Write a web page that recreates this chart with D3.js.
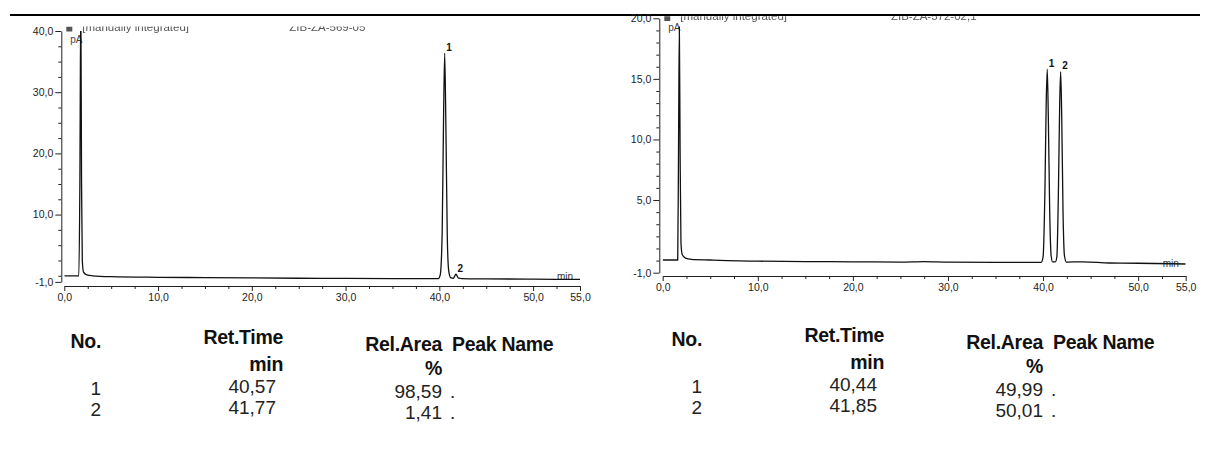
<!DOCTYPE html>
<html>
<head>
<meta charset="utf-8">
<script src="https://cdn.jsdelivr.net/npm/d3@7"></script>
<style>
  body { margin: 0; background: #fff; }
  svg { display: block; font-family: "Liberation Sans", Arial, sans-serif; }
</style>
</head>
<body>
<svg id="c" width="1211" height="457"></svg>
<script>
// ---- shared axis ticks ----
const timeTicks = [0, 10, 20, 30, 40, 50, 55];           // min
const timeMinorStep = 2.5;

// ---- run A (ZIB-ZA-569-05) ----
const runA_title = "ZIB-ZA-569-05";
const runA_yTicks = [-1, 10, 20, 30, 40];                 // pA
const runA_yMinorStep = 2.5;
const runA_time   = [0, 1.55, 1.66, 1.76, 1.84, 1.92, 2.05, 2.4, 3, 5, 10, 15, 20, 25, 30, 35, 39.9, 40.1, 40.3, 40.45, 40.57, 40.7, 40.85, 41.0, 41.2, 41.5, 41.77, 42.05, 42.4, 45, 50, 55];
const runA_signal = [0, 0, 15, 45, 15, 2.5, 0.6, 0.15, 0, -0.15, -0.25, -0.3, -0.35, -0.4, -0.42, -0.45, -0.45, 0.2, 7, 26, 36.4, 24, 6, 0.8, -0.3, -0.4, 0.25, -0.4, -0.45, -0.5, -0.55, -0.6];
const runA_peakNo   = [1, 2];
const runA_retTime  = [40.57, 41.77];
const runA_relArea  = [98.59, 1.41];
const runA_peakName = [".", "."];

// ---- run B (ZIB-ZA-572-02,1) ----
const runB_title = "ZIB-ZA-572-02,1";
const runB_yTicks = [-1, 5, 10, 15, 20];                  // pA
const runB_yMinorStep = 1;
const runB_time   = [0, 1.58, 1.67, 1.75, 1.83, 1.92, 2.05, 2.4, 3, 5, 10, 15, 20, 25, 27.5, 30, 35, 39.8, 40.0, 40.2, 40.33, 40.44, 40.55, 40.7, 40.85, 41.0, 41.3, 41.45, 41.62, 41.75, 41.85, 41.96, 42.1, 42.25, 42.45, 44.2, 47, 50, 55];
const runB_signal = [0.05, 0.05, 10, 19.3, 9, 1.5, 0.5, 0.2, 0.1, 0.05, -0.05, -0.08, -0.1, -0.12, -0.08, -0.12, -0.14, -0.15, 0.3, 6, 13, 15.8, 12, 4, 0.4, -0.1, -0.1, 0.3, 6, 13, 15.6, 12, 4, 0.4, -0.12, -0.1, -0.2, -0.22, -0.28];
const runB_peakNo   = [1, 2];
const runB_retTime  = [40.44, 41.85];
const runB_relArea  = [49.99, 50.01];
const runB_peakName = [".", "."];

const svg = d3.select("#c");
const loc = d3.formatLocale({decimal: ",", thousands: ".", grouping: [3], currency: ["", ""], minus: "-"});
const f1 = loc.format(".1f");
const f2 = loc.format(".2f");
const INK = "#222";

// page rule across the top
svg.append("line")
  .attr("x1", 10).attr("x2", 1200).attr("y1", 15).attr("y2", 15)
  .attr("stroke", "#000").attr("stroke-width", 2.2);

svg.append("defs").append("filter").attr("id", "soft")
  .append("feGaussianBlur").attr("stdDeviation", 0.5);

function chromatogram(cfg) {
  const g = svg.append("g");
  const x = d3.scaleLinear([0, 55], cfg.xRange);
  const y = d3.scaleLinear(cfg.yDomain, cfg.yRange);

  // report header, only its lower edge shows under the page rule
  const clipId = "hdr" + cfg.id;
  svg.select("defs").append("clipPath").attr("id", clipId)
    .append("rect").attr("x", 0).attr("y", cfg.headerClip).attr("width", 1211).attr("height", 40);
  const hg = g.append("g").attr("clip-path", `url(#${clipId})`).attr("filter", "url(#soft)").attr("fill", "#555");
  hg.append("rect").attr("x", cfg.yAxisX + 5).attr("y", cfg.headerBase - 4).attr("width", 6).attr("height", 5);
  hg.append("text").attr("x", cfg.yAxisX + 21).attr("y", cfg.headerBase).attr("font-size", 11.5).text("[manually integrated]");
  hg.append("text").attr("x", x(24)).attr("y", cfg.headerBase).attr("font-size", 11.5).text(cfg.title);

  // y axis (pA)
  const ya = g.append("g").attr("transform", `translate(${cfg.yAxisX},0)`)
    .call(d3.axisLeft(y).tickValues(cfg.yTicks).tickFormat(f1).tickSize(6).tickSizeOuter(0).tickPadding(2));
  const yMinor = d3.range(0, cfg.yDomain[1], cfg.yMinorStep).filter(v => !cfg.yTicks.includes(v));
  const ym = g.append("g").attr("transform", `translate(${cfg.yAxisX},0)`)
    .call(d3.axisLeft(y).tickValues(yMinor).tickFormat("").tickSize(3).tickSizeOuter(0));
  ym.select(".domain").remove();

  // x axis (min)
  const xa = g.append("g").attr("transform", `translate(0,${cfg.xAxisY})`)
    .call(d3.axisBottom(x).tickValues(timeTicks).tickFormat(f1).tickSize(5).tickSizeOuter(0).tickPadding(3));
  const xMinor = d3.range(0, 55, timeMinorStep).filter(v => !timeTicks.includes(v));
  const xm = g.append("g").attr("transform", `translate(0,${cfg.xAxisY})`)
    .call(d3.axisBottom(x).tickValues(xMinor).tickFormat("").tickSize(3).tickSizeOuter(0));
  xm.select(".domain").remove();

  [ya, ym, xa, xm].forEach(a => {
    a.selectAll("path, line").attr("stroke", INK).attr("stroke-width", 1);
    a.selectAll("text").attr("fill", INK).attr("font-size", 10.5)
      .attr("font-family", '"Liberation Sans", Arial, sans-serif');
  });

  // unit labels
  g.append("text").attr("x", cfg.yAxisX + 9).attr("y", y(cfg.yDomain[1]) + cfg.pAOffset)
    .attr("font-size", 10).attr("fill", "#444").text("pA");
  g.append("text").attr("x", x(55) - 23).attr("y", y(0) + cfg.minOffset)
    .attr("font-size", 10).attr("fill", "#333").text("min");

  // signal trace
  const tClip = "trace" + cfg.id;
  svg.select("defs").append("clipPath").attr("id", tClip)
    .append("rect").attr("x", x(0)).attr("y", y(cfg.yDomain[1]))
    .attr("width", x(55) - x(0)).attr("height", y(cfg.yDomain[0]) - y(cfg.yDomain[1]) + 5);
  const pts = cfg.time.map((t, i) => [t, cfg.signal[i]]);
  g.append("path").datum(pts)
    .attr("clip-path", `url(#${tClip})`)
    .attr("fill", "none").attr("stroke", "#111").attr("stroke-width", 1.3)
    .attr("stroke-linejoin", "round")
    .attr("d", d3.line().x(d => x(d[0])).y(d => y(d[1])).curve(d3.curveMonotoneX));

  // peak numbers at the apex of each integrated peak
  cfg.peakNo.forEach((n, i) => {
    const t = cfg.retTime[i];
    const k = cfg.time.indexOf(t);
    g.append("text").attr("x", x(t) + 1.5).attr("y", y(cfg.signal[k]) - 2.5)
      .attr("font-size", 10).attr("font-weight", "bold").attr("fill", "#111").text(n);
  });
}

function peakTable(cfg) {
  const g = svg.append("g").attr("transform", `translate(${cfg.dx},${cfg.dy})`)
    .attr("font-family", '"Liberation Sans", Arial, sans-serif');
  const head = (txt, xx, yy, anchor) => g.append("text").attr("x", xx).attr("y", yy)
    .attr("text-anchor", anchor).attr("font-size", 19.5).attr("font-weight", "bold")
    .attr("fill", "#111").attr("letter-spacing", -0.3).text(txt);
  head("No.", 101, 348, "end");
  head("Ret.Time", 283, 344, "end");
  head("min", 283, 371, "end");
  head("Rel.Area", 442, 351, "end");
  head("%", 442, 375, "end");
  head("Peak Name", 452, 351, "start");

  const rowBase = [395, 416];
  cfg.peakNo.forEach((n, i) => {
    const b = rowBase[i];
    const cell = (txt, xx, yy, anchor) => g.append("text").attr("x", xx).attr("y", yy)
      .attr("text-anchor", anchor).attr("font-size", 19).attr("fill", "#222").text(txt);
    cell(n, 101, b, "end");
    cell(f2(cfg.retTime[i]), 276, b - 2, "end");
    cell(f2(cfg.relArea[i]), 442, b + 3, "end");
    cell(cfg.peakName[i], 450, b + 3, "start");
  });
}

chromatogram({
  id: "A", title: runA_title,
  xRange: [64.3, 580], yDomain: [-1, 40], yRange: [281.9, 31],
  yAxisX: 61.3, xAxisY: 286, yTicks: runA_yTicks, yMinorStep: runA_yMinorStep,
  headerBase: 30.5, headerClip: 26.5, pAOffset: 12, minOffset: 4,
  time: runA_time, signal: runA_signal, peakNo: runA_peakNo, retTime: runA_retTime
});
chromatogram({
  id: "B", title: runB_title,
  xRange: [662.7, 1185.7], yDomain: [-1, 20], yRange: [272.7, 18.3],
  yAxisX: 659.3, xAxisY: 276, yTicks: runB_yTicks, yMinorStep: runB_yMinorStep,
  headerBase: 20, headerClip: 16.2, pAOffset: 13, minOffset: 6,
  time: runB_time, signal: runB_signal, peakNo: runB_peakNo, retTime: runB_retTime
});

peakTable({dx: 0, dy: 0, peakNo: runA_peakNo, retTime: runA_retTime, relArea: runA_relArea, peakName: runA_peakName});
peakTable({dx: 601, dy: -2, peakNo: runB_peakNo, retTime: runB_retTime, relArea: runB_relArea, peakName: runB_peakName});
</script>
</body>
</html>
